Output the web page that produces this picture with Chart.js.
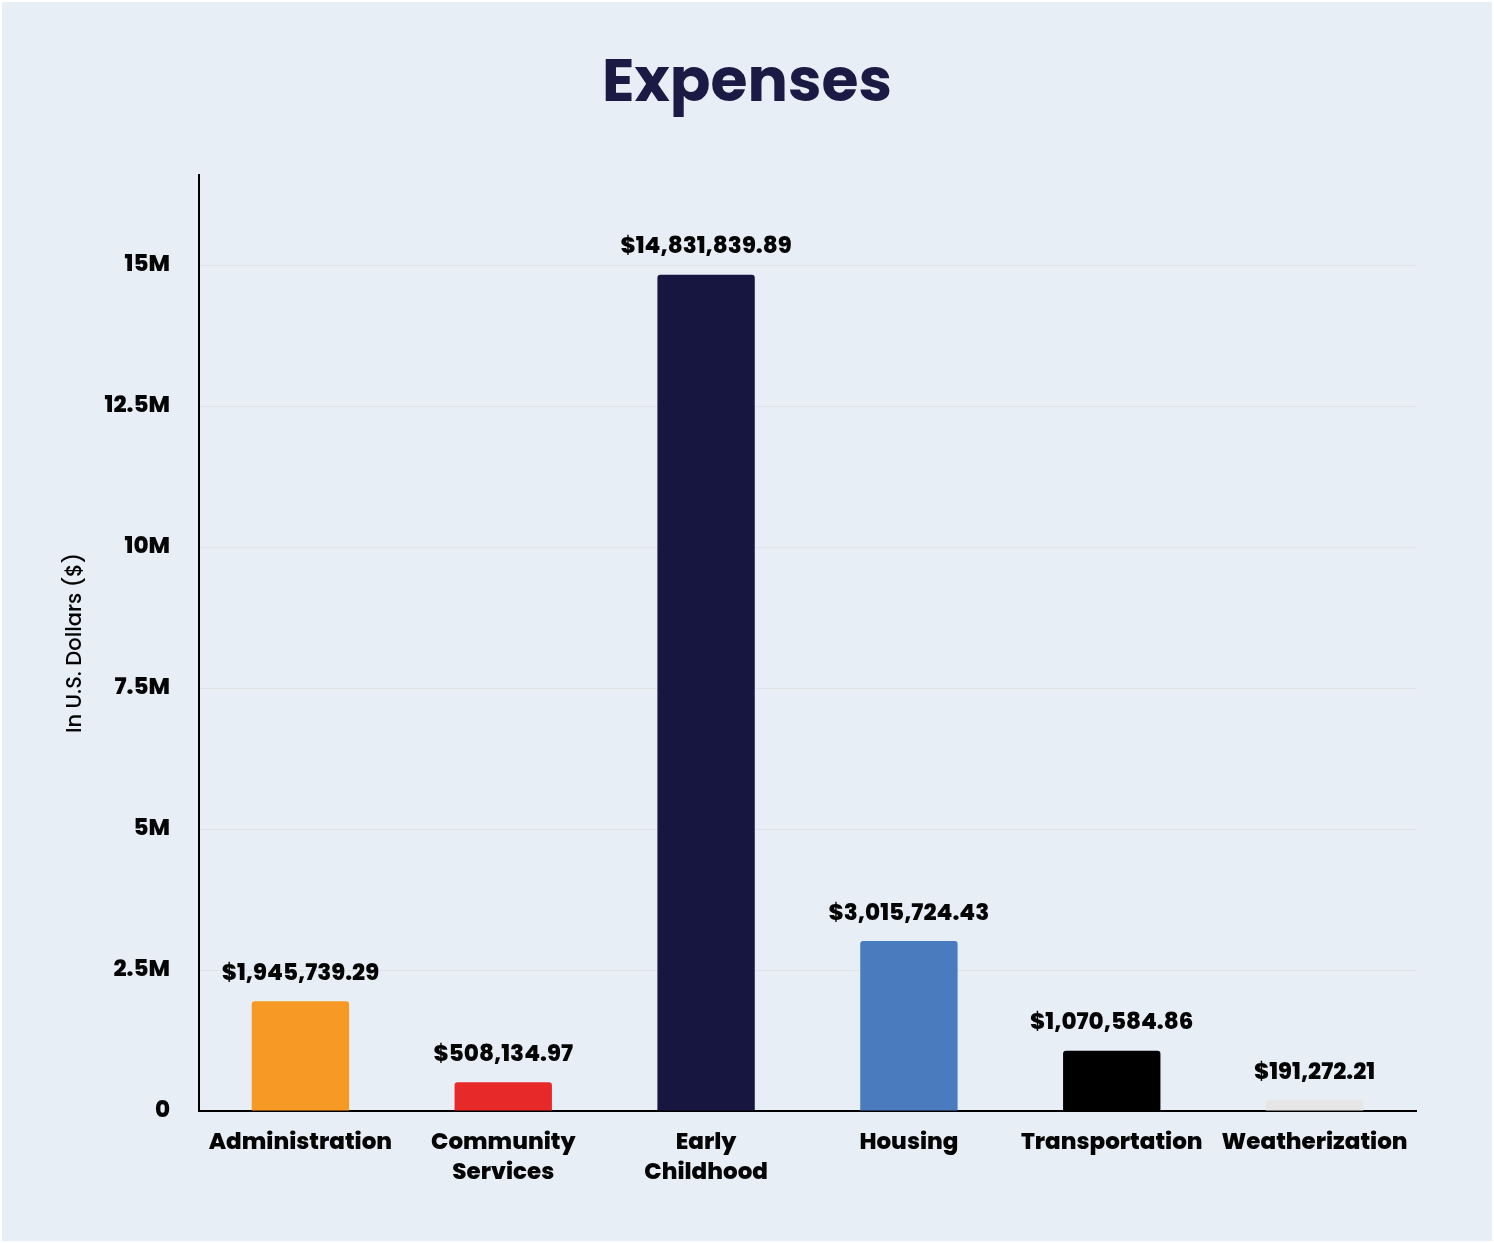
<!DOCTYPE html>
<html>
<head>
<meta charset="utf-8">
<script src="https://cdn.jsdelivr.net/npm/chart.js@4"></script>
<style>
  html, body { margin: 0; padding: 0; background: #ffffff; }
  #wrap { width: 1494px; height: 1243px; position: relative; }
  canvas { display: block; outline: 2px solid #ffffff; outline-offset: -2px; }
</style>
</head>
<body>
<div id="wrap"><canvas id="expenses"></canvas></div>
<script>
const categories = [["Administration"], ["Community", "Services"], ["Early", "Childhood"], ["Housing"], ["Transportation"], ["Weatherization"]];
const expenses = [1945739.29, 508134.97, 14831839.89, 3015724.43, 1070584.86, 191272.21];
const barColors = ['#f79a25', '#e8292a', '#171640', '#4b7bbf', '#000000', '#e6e6e6'];
const tickValues = [0, 2500000, 5000000, 7500000, 10000000, 12500000, 15000000];
const tickTexts = ['0', '2.5M', '5M', '7.5M', '10M', '12.5M', '15M'];

const fontFamily = "'Poppins', 'Inter', 'Noto Sans', sans-serif";

// background fill for the card
const cardBackground = {
    id: 'cardBackground',
    beforeDraw(chart) {
        const ctx = chart.ctx;
        ctx.save();
        ctx.fillStyle = '#e7eef5';
        ctx.fillRect(0, 0, chart.width, chart.height);
        ctx.restore();
    }
};

// dollar labels above each bar
const valueLabels = {
    id: 'valueLabels',
    afterDatasetsDraw(chart) {
        const ctx = chart.ctx;
        const meta = chart.getDatasetMeta(0);
        ctx.save();
        ctx.font = '800 23px ' + fontFamily;
        ctx.fillStyle = '#050505';
        ctx.textAlign = 'center';
        ctx.textBaseline = 'middle';
        meta.data.forEach((bar, i) => {
            const txt = '$' + expenses[i].toLocaleString('en-US', { minimumFractionDigits: 2, maximumFractionDigits: 2 });
            ctx.fillText(txt, bar.x, bar.y - 27);
        });
        ctx.restore();
    }
};

const ctx = document.getElementById('expenses').getContext('2d');
const expensesChart = new Chart(ctx, {
    type: 'bar',
    data: {
        labels: categories,
        datasets: [{
            label: 'Expenses',
            data: expenses,
            backgroundColor: barColors,
            borderRadius: { topLeft: 3, topRight: 3 },
            borderSkipped: 'bottom',
            barPercentage: 0.48,
            categoryPercentage: 1.0
        }]
    },
    options: {
        responsive: true,
        maintainAspectRatio: false,
        animation: false,
        layout: {
            padding: 0
        },
        scales: {
            x: {
                grid: { display: false, drawTicks: false },
                border: { display: true, color: '#000000', width: 2 },
                ticks: {
                    color: '#050505',
                    padding: 17,
                    font: { family: fontFamily, size: 23, weight: 800, lineHeight: 1.3 },
                    maxRotation: 0,
                    autoSkip: false
                },
                afterFit(scale) {
                    scale.height = 132;
                }
            },
            y: {
                min: 0,
                max: 16600000,
                grid: {
                    color: '#dfe3e6',
                    lineWidth: 1,
                    drawTicks: false
                },
                border: { display: true, color: '#000000', width: 2 },
                ticks: {
                    color: '#050505',
                    padding: 29,
                    font: { family: fontFamily, size: 23, weight: 800 },
                    callback: (v) => {
                        const i = tickValues.indexOf(Math.round(v));
                        return i >= 0 ? tickTexts[i] : '';
                    }
                },
                afterBuildTicks(scale) {
                    scale.ticks = tickValues.map(v => ({ value: v }));
                },
                afterFit(scale) {
                    scale.width = 199;
                },
                title: {
                    display: true,
                    text: 'In U.S. Dollars ($)',
                    color: '#050505',
                    font: { family: fontFamily, size: 21, weight: 500 },
                    padding: { top: 63, bottom: 0 }
                }
            },
            // empty right axis, only reserves the right margin
            yRight: {
                position: 'right',
                grid: { display: false, drawTicks: false },
                border: { display: false },
                ticks: { display: false },
                afterFit(scale) {
                    scale.width = 78;
                }
            }
        },
        plugins: {
            legend: { display: false },
            tooltip: { enabled: false },
            title: {
                display: true,
                text: 'Expenses',
                color: '#1a1a44',
                font: { family: fontFamily, size: 60, weight: 'bold', lineHeight: 1.2 },
                padding: { top: 50, bottom: 53 }
            }
        }
    },
    plugins: [cardBackground, valueLabels]
});
</script>
</body>
</html>
